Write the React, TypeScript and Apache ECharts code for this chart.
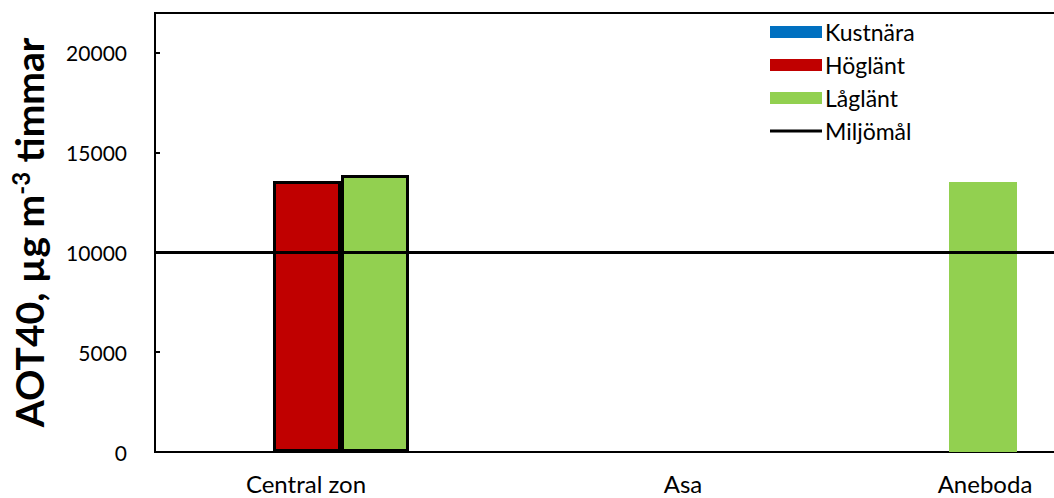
import React, { useEffect, useRef } from "react";
import * as echarts from "echarts";

const categories = ["Central zon", "Asa", "Aneboda"];
const kustnara: (number | string)[] = ["-", "-", "-"];
const hoglant: (number | string)[] = [13580, "-", "-"];
const laglant: (number | string)[] = [13880, "-", 13530];
const miljomal = 10000;
const yTicks = [0, 5000, 10000, 15000, 20000];

// style: which categories have outlined bars, and label shifts (px)
const outlined = [true, false, false];
const labelShift = [-1, 72, 70];

const FONT = "Lato, 'Noto Sans', sans-serif";
const LINE_ICON =
  "path://M0,0 L52,0 L52,0.01 Z M0,4.5 L52,4.5 L52,7.5 L0,7.5 Z M0,12 L52,12 L52,11.99 Z";

function withBorder(vals: (number | string)[]) {
  return vals.map((v, i) =>
    outlined[i]
      ? { value: v, itemStyle: { borderColor: "#000", borderWidth: 3 } }
      : { value: v }
  );
}

export default function App() {
  const ref = useRef<HTMLDivElement>(null);
  useEffect(() => {
    const chart = echarts.init(ref.current!, undefined, { renderer: "svg" });
    const rich: any = {};
    categories.forEach((c, i) => {
      const s = labelShift[i];
      rich["c" + i] = {
        fontSize: 24,
        fontFamily: FONT,
        color: "#000",
        padding: s >= 0 ? [0, 0, 0, s * 2] : [0, -s * 2, 0, 0],
      };
    });
    chart.setOption({
      animation: false,
      backgroundColor: "#fff",
      textStyle: { fontFamily: FONT },
      grid: {
        left: 152,
        right: 0,
        top: 13,
        bottom: 46,
        show: true,
        borderColor: "#000",
        borderWidth: 2,
      },
      legend: {
        orient: "vertical",
        left: 765,
        top: 15,
        itemWidth: 52,
        itemHeight: 12,
        itemGap: 9,
        textStyle: { fontSize: 23, color: "#000", fontFamily: FONT, lineHeight: 24, padding: [0, 0, 0, -2] },
        data: [
          { name: "Kustnära", icon: "rect" },
          { name: "Höglänt", icon: "rect" },
          { name: "Låglänt", icon: "rect" },
          { name: "Miljömål", icon: LINE_ICON, itemStyle: { color: "#000" } },
        ],
      },
      xAxis: {
        type: "category",
        data: categories,
        axisLine: { lineStyle: { color: "#000", width: 2 } },
        axisTick: { show: false },
        axisLabel: {
          margin: 19,
          formatter: (v: string) => {
            const i = categories.indexOf(v);
            return "{c" + i + "|" + v + "}";
          },
          rich,
        },
      },
      yAxis: {
        type: "value",
        min: yTicks[0],
        max: 22000,
        interval: yTicks[1] - yTicks[0],
        splitLine: { show: false },
        axisLine: { show: true, lineStyle: { color: "#000", width: 2 } },
        axisTick: { show: true, inside: true, length: 5, lineStyle: { color: "#000", width: 2 } },
        axisLabel: {
          showMaxLabel: false,
          formatter: (v: number) => String(v),
          fontSize: 21,
          color: "#000",
          fontFamily: FONT,
          margin: 28,
        },
        name: "AOT40, µg m{sup|-3} timmar",
        nameLocation: "middle",
        nameRotate: 90,
        nameGap: 105,
        nameTextStyle: {
          fontSize: 39,
          fontWeight: "bold",
          color: "#000",
          fontFamily: FONT,
          rich: {
            sup: {
              fontSize: 24,
              fontWeight: "bold",
              color: "#000",
              fontFamily: FONT,
              padding: [0, 0, 18, 0],
            },
          },
        },
      },
      series: [
        {
          name: "Kustnära",
          type: "bar",
          barWidth: 68,
          barGap: "0%",
          itemStyle: { color: "#0070C0" },
          data: withBorder(kustnara),
        },
        {
          name: "Höglänt",
          type: "bar",
          barWidth: 68,
          barGap: "0%",
          itemStyle: { color: "#C00000" },
          data: withBorder(hoglant),
        },
        {
          name: "Låglänt",
          type: "bar",
          barWidth: 68,
          barGap: "0%",
          itemStyle: { color: "#92D050" },
          data: withBorder(laglant),
        },
        {
          name: "Miljömål",
          type: "line",
          symbol: "none",
          lineStyle: { color: "#000", width: 3 },
          itemStyle: { color: "#000" },
          data: [],
          markLine: {
            silent: true,
            symbol: "none",
            label: { show: false },
            lineStyle: { color: "#000", width: 3, type: "solid" },
            data: [{ yAxis: miljomal }],
          },
        },
      ],
    });
    return () => chart.dispose();
  }, []);
  return (
    <div
      style={{
        position: "fixed",
        left: 0,
        top: 0,
        width: 1054,
        height: 498,
        overflow: "hidden",
        background: "#fff",
      }}
    >
      <div ref={ref} style={{ width: 1067, height: 498 }} />
    </div>
  );
}
